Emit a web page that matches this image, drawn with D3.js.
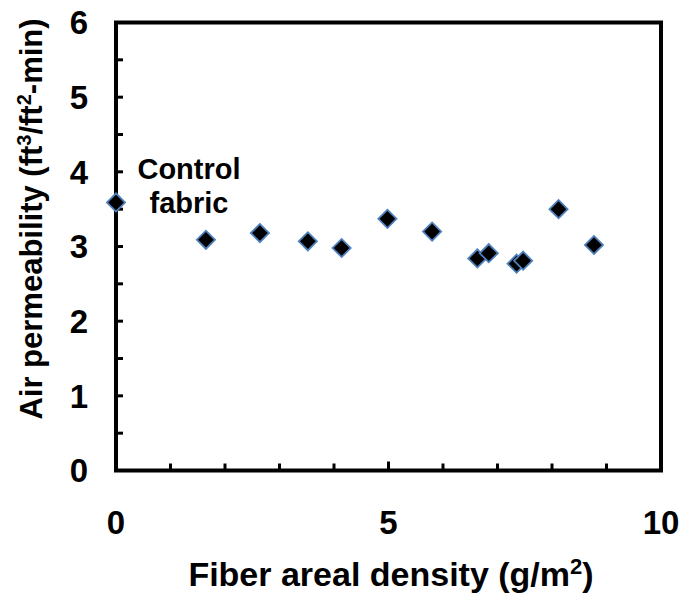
<!DOCTYPE html>
<html>
<head>
<meta charset="utf-8">
<script src="https://cdn.jsdelivr.net/npm/d3@7"></script>
<style>
  body { margin: 0; background: #fff; }
  svg { display: block; }
  text { font-family: "Liberation Sans", Arial, sans-serif; font-weight: bold; fill: #000; }
</style>
</head>
<body>
<svg id="chart" width="683" height="602"></svg>
<script>
// Fiber areal density (g/m^2) and measured air permeability (ft^3/ft^2-min)
const density = [0, 1.65, 2.64, 3.52, 4.14, 4.98, 5.80, 6.63, 6.84, 7.35, 7.47, 8.12, 8.77];
const permeability = [3.59, 3.09, 3.18, 3.07, 2.98, 3.37, 3.20, 2.84, 2.91, 2.77, 2.81, 3.50, 3.02];
const xTicks = [0, 5, 10];
const yTicks = [0, 1, 2, 3, 4, 5, 6];

const svg = d3.select("#chart");
const plotLeft = 116, plotRight = 661, plotTop = 22.5, plotBottom = 470.5;

const x = d3.scaleLinear().domain([0, 10]).range([plotLeft, plotRight]);
const y = d3.scaleLinear().domain([0, 6]).range([plotBottom, plotTop]);

// inward ticks
const xMinor = d3.range(1, 10);
svg.append("g").selectAll("line").data(xMinor).join("line")
  .attr("x1", d => x(d)).attr("x2", d => x(d))
  .attr("y1", plotBottom).attr("y2", d => plotBottom - (d === 5 ? 9 : 7))
  .attr("stroke", "#000").attr("stroke-width", 3);

const yMinor = d3.range(0.5, 6, 0.5);
svg.append("g").selectAll("line").data(yMinor).join("line")
  .attr("x1", plotLeft).attr("x2", plotLeft + 7)
  .attr("y1", d => y(d)).attr("y2", d => y(d))
  .attr("stroke", "#000").attr("stroke-width", 3);

// plot frame
svg.append("rect")
  .attr("x", plotLeft).attr("y", plotTop)
  .attr("width", plotRight - plotLeft).attr("height", plotBottom - plotTop)
  .attr("fill", "none").attr("stroke", "#000").attr("stroke-width", 4);

// tick labels
svg.append("g").selectAll("text").data(yTicks).join("text")
  .attr("x", 88).attr("y", d => y(d))
  .attr("dy", "0.36em")
  .attr("text-anchor", "end")
  .attr("font-size", 33)
  .text(d => d);

svg.append("g").selectAll("text").data(xTicks).join("text")
  .attr("x", d => x(d)).attr("y", 534)
  .attr("text-anchor", "middle")
  .attr("font-size", 33)
  .text(d => d);

// axis titles
const yt = svg.append("text")
  .attr("transform", "translate(42,219) rotate(-90)")
  .attr("text-anchor", "middle")
  .attr("font-size", 31);
yt.append("tspan").text("Air permeability (ft");
yt.append("tspan").attr("font-size", 20).attr("dy", -11).text("3");
yt.append("tspan").attr("dy", 11).text("/ft");
yt.append("tspan").attr("font-size", 20).attr("dy", -11).text("2");
yt.append("tspan").attr("dy", 11).text("-min)");

const xt = svg.append("text")
  .attr("x", 391).attr("y", 586)
  .attr("text-anchor", "middle")
  .attr("font-size", 34);
xt.append("tspan").text("Fiber areal density (g/m");
xt.append("tspan").attr("font-size", 22).attr("dy", -12).text("2");
xt.append("tspan").attr("dy", 12).text(")");

// annotation for the control fabric point
svg.append("text").attr("x", 189).attr("y", 179)
  .attr("text-anchor", "middle").attr("font-size", 29).text("Control");
svg.append("text").attr("x", 189).attr("y", 213)
  .attr("text-anchor", "middle").attr("font-size", 29).text("fabric");

// diamond markers
const diamond = d3.symbol().type(d3.symbolSquare).size(165);
svg.append("g").selectAll("path").data(density.map((d, i) => [d, permeability[i]])).join("path")
  .attr("d", diamond)
  .attr("transform", d => `translate(${x(d[0])},${y(d[1])}) rotate(45)`)
  .attr("fill", "#000")
  .attr("stroke", "#4F81BD")
  .attr("stroke-width", 1.8);
</script>
</body>
</html>
